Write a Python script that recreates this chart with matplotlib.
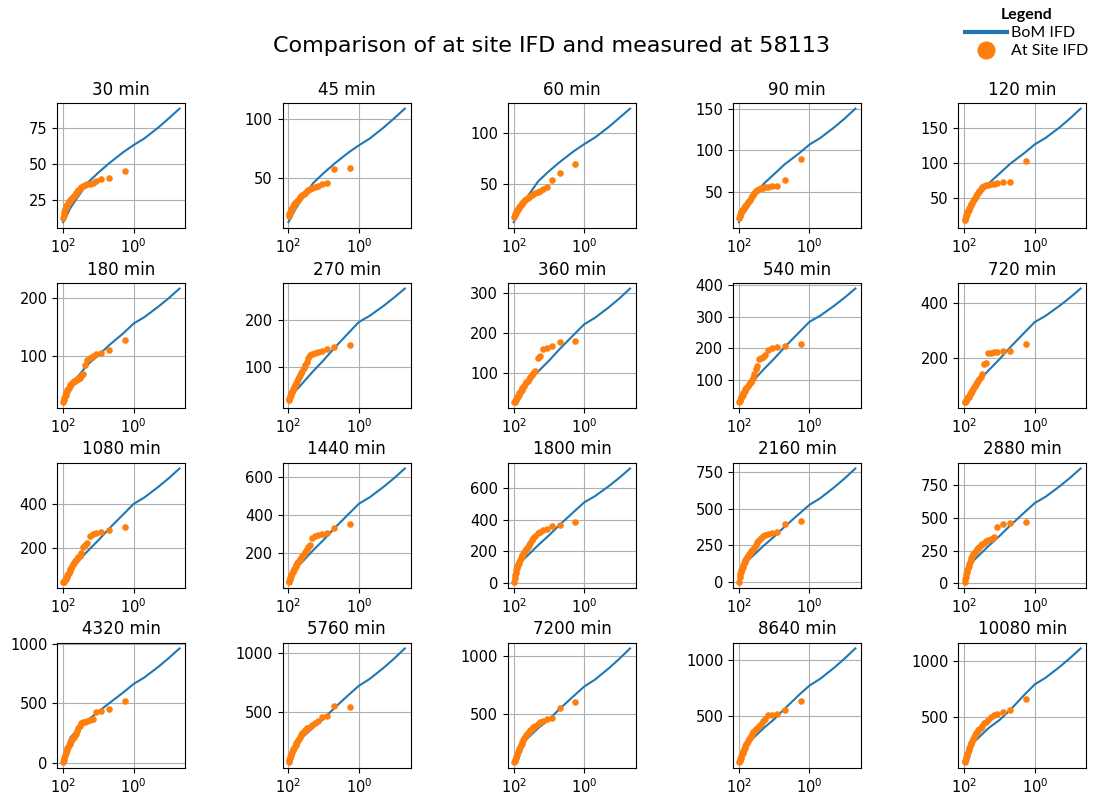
import matplotlib
matplotlib.use('Agg')
import matplotlib.pyplot as plt
from matplotlib.ticker import NullLocator
from matplotlib.lines import Line2D

# durations (min)
durations = [30, 45, 60, 90, 120, 180, 270, 360, 540, 720,
             1080, 1440, 1800, 2160, 2880, 4320, 5760, 7200, 8640, 10080]

# AEP (%) of the BoM IFD curve points
bom_aep = [99.99, 63.2, 50, 20, 10, 5, 2, 1, 0.5, 0.2, 0.1, 0.05]

# BoM IFD depths (mm), one list per duration
bom_30 = [10, 19.5, 23.3, 37.2, 44.1, 50.4, 58, 63, 67.5, 75, 81.4, 88]
bom_45 = [13, 24.2, 28.9, 46, 54.6, 62.4, 71.8, 78, 83.6, 93, 100.8, 109]
bom_60 = [12, 27.6, 32.9, 52.5, 62.3, 71.2, 81.9, 89, 95.4, 106, 115, 124]
bom_90 = [14, 32.1, 38.5, 59.9, 71.7, 83.5, 96.3, 107, 114.7, 127.5, 138.2, 150]
bom_120 = [15, 37.8, 45.4, 70.6, 84.4, 98.3, 113.4, 126, 135, 150, 163, 177]
bom_180 = [21, 46.8, 56.2, 85.8, 101.4, 118.6, 138.8, 156, 166.8, 184.9, 199.8, 216]
bom_270 = [27, 50.7, 58.5, 91.7, 115, 140.4, 171.6, 195, 207.7, 228.7, 246.3, 265]
bom_360 = [27, 57.5, 66.3, 103.9, 130.4, 159.1, 194.5, 221, 236.9, 263.4, 285.5, 310]
bom_540 = [30, 73.8, 85.2, 133.5, 167.6, 204.5, 249.9, 284, 303, 334.5, 360.7, 389]
bom_720 = [38, 85.8, 99, 155.1, 194.7, 237.6, 290.4, 330, 352.1, 388.7, 419.1, 452]
bom_1080 = [47, 104, 120, 188, 236, 288, 352, 400, 428.8, 476.8, 516.8, 560]
bom_1440 = [50, 119.3, 137.7, 215.7, 270.8, 330.5, 403.9, 459, 492, 547.1, 593, 643]
bom_1800 = [20, 132.9, 153.3, 240.2, 301.5, 367.9, 449.7, 511, 549.8, 614.2, 667.7, 726]
bom_2160 = [5, 137, 158.1, 247.7, 310.9, 379.4, 463.8, 527, 571.6, 646, 707.8, 775]
bom_2880 = [10, 158.9, 183.3, 287.2, 360.5, 439.9, 537.7, 611, 658, 737, 802.9, 874]
bom_4320 = [10, 210, 245, 360, 430, 500, 590, 663, 716.7, 806.2, 881.1, 961]
bom_5760 = [72, 220, 255, 365, 440, 530, 640, 720, 776.9, 871.9, 951.1, 1037]
bom_7200 = [80, 225, 260, 375, 450, 540, 652, 735, 794.5, 893.8, 976.8, 1066]
bom_8640 = [88, 235, 270, 390, 470, 565, 685, 770, 829.3, 928.6, 1011.8, 1101]
bom_10080 = [92, 240, 280, 400, 470, 560, 695, 791, 849.5, 946.8, 1027.5, 1115]

# plotting positions (AEP %) of the at-site annual maxima, largest first
site_aep = [1.80, 5.01, 8.23, 11.44, 14.65, 17.87, 21.08, 24.29, 27.51, 30.72,
            33.93, 37.15, 40.36, 43.57, 46.79, 50.00, 53.21, 56.43, 59.64, 62.85,
            66.07, 69.28, 72.49, 75.71, 78.92, 82.13, 85.35, 88.56, 91.77, 94.99, 98.20]

# at-site depths (mm), one list per duration, largest first
site_30 = [45, 40.5, 40, 38, 37, 36.5, 36, 35.5, 35, 34, 33, 32, 31, 30, 29, 28,
           27, 26.5, 26, 25, 24.5, 24, 23, 22, 21.5, 21, 20, 19, 17, 15, 13]
site_45 = [58.6, 58, 46.3, 45, 44, 43, 42, 41, 40, 39, 38, 37, 36, 35, 34, 33,
           32, 31, 30.5, 30, 29, 28, 27, 26, 25, 24, 23, 22, 21, 20, 18]
site_60 = [69.6, 60.8, 53.2, 47, 45, 43, 42, 41, 40, 39, 38, 37, 36, 35, 34, 33,
           32, 31, 30, 29, 28, 27, 26, 25, 24, 23, 22, 21, 20, 19, 17]
site_90 = [90, 64, 57, 57, 56.5, 56, 55.5, 55, 54, 53, 51, 49, 47, 45, 43, 41,
           39, 38, 36, 35, 33, 32, 31, 30, 29, 28, 27, 25, 23, 21, 19]
site_120 = [102, 73, 72, 71, 70, 69, 68.5, 68, 67, 65, 62, 60, 57, 55, 52, 50,
            48, 45, 43, 41, 39, 37, 35, 33, 31, 29, 27, 25, 23, 20, 18]
site_180 = [127, 110, 105, 103, 100, 97, 93, 84, 70, 66, 63, 61, 60, 59, 58, 57,
            56, 54, 52, 50, 48, 46, 44, 42, 40, 37, 34, 31, 28, 25, 22]
site_270 = [147, 142, 138, 135, 133, 130, 128, 125, 120, 112, 105, 98, 92, 88, 84, 80,
            76, 72, 68, 65, 62, 58, 55, 52, 49, 46, 43, 40, 37, 34, 31]
site_360 = [179, 176, 166, 163, 160, 142, 137, 105, 100, 95, 90, 85, 80, 76, 72, 68,
            64, 61, 58, 55, 52, 49, 46, 43, 40, 37, 34, 32, 30, 28, 27]
site_540 = [214, 206, 203, 200, 195, 180, 172, 168, 165, 145, 135, 120, 105, 100, 95, 90,
            86, 82, 78, 74, 70, 66, 62, 58, 54, 50, 46, 42, 38, 35, 32]
site_720 = [250, 226, 224, 222, 220, 218, 216, 182, 176, 140, 130, 122, 116, 110, 104, 98,
            92, 86, 80, 75, 70, 66, 62, 58, 55, 52, 49, 46, 43, 40, 38]
site_1080 = [294, 283, 275, 268, 262, 255, 225, 215, 205, 180, 165, 158, 152, 147, 142, 135,
             128, 120, 112, 104, 97, 90, 84, 78, 72, 66, 60, 56, 52, 49, 47]
site_1440 = [355, 332, 305, 300, 297, 290, 280, 245, 235, 225, 205, 195, 185, 178, 170, 162,
             155, 148, 140, 132, 125, 117, 110, 102, 95, 88, 80, 72, 65, 58, 52]
site_1800 = [388, 367, 358, 345, 335, 325, 315, 300, 285, 270, 255, 240, 228, 215, 205, 195,
             185, 175, 165, 155, 145, 135, 125, 115, 105, 92, 80, 65, 50, 30, 5]
site_2160 = [419, 397, 340, 335, 330, 322, 312, 300, 290, 275, 255, 232, 225, 218, 210, 200,
             190, 180, 170, 160, 150, 140, 128, 116, 104, 92, 80, 68, 55, 35, 0]
site_2880 = [466, 458, 450, 430, 350, 340, 330, 320, 310, 300, 290, 280, 270, 260, 250, 240,
             230, 220, 205, 190, 175, 160, 145, 130, 115, 100, 85, 70, 50, 30, 10]
site_4320 = [522, 456, 434, 430, 370, 360, 350, 345, 340, 335, 310, 290, 265, 245, 232, 220,
             210, 198, 186, 175, 163, 150, 137, 124, 110, 95, 80, 63, 45, 25, 8]
site_5760 = [537, 545, 460, 455, 420, 400, 385, 372, 365, 358, 345, 330, 315, 300, 285, 270,
             258, 245, 232, 220, 207, 195, 182, 170, 157, 143, 130, 118, 105, 90, 75]
site_7200 = [597, 548, 460, 450, 440, 425, 410, 395, 380, 368, 356, 343, 330, 315, 300, 285,
             270, 255, 240, 225, 210, 195, 180, 165, 150, 137, 125, 112, 100, 90, 80]
site_8640 = [635, 550, 515, 510, 505, 470, 450, 430, 405, 390, 378, 366, 352, 338, 322, 306,
             290, 275, 260, 245, 230, 215, 200, 185, 170, 155, 140, 125, 112, 100, 88]
site_10080 = [660, 562, 540, 525, 515, 500, 470, 455, 440, 420, 400, 390, 378, 365, 350, 335,
              318, 300, 283, 266, 250, 233, 216, 200, 183, 166, 150, 135, 120, 105, 92]

bom_all = [bom_30, bom_45, bom_60, bom_90, bom_120, bom_180, bom_270, bom_360, bom_540, bom_720,
           bom_1080, bom_1440, bom_1800, bom_2160, bom_2880, bom_4320, bom_5760, bom_7200,
           bom_8640, bom_10080]
site_all = [site_30, site_45, site_60, site_90, site_120, site_180, site_270, site_360, site_540,
            site_720, site_1080, site_1440, site_1800, site_2160, site_2880, site_4320, site_5760,
            site_7200, site_8640, site_10080]

fig, axes = plt.subplots(4, 5, figsize=(11.03, 7.98), dpi=100)
fig.subplots_adjust(left=0.052, right=0.985, top=0.871, bottom=0.038, wspace=0.76, hspace=0.44)

for ax, dur, bom, site in zip(axes.flat, durations, bom_all, site_all):
    ax.plot(bom_aep, bom, color='tab:blue', lw=1.5)
    ax.scatter(site_aep, site, color='tab:orange', s=14, zorder=3)
    ax.set_xscale('log')
    ax.invert_xaxis()
    ax.set_xticks([100, 1])
    ax.xaxis.set_minor_locator(NullLocator())
    ax.grid(True)
    ax.set_title(f'{dur} min', fontsize=12)
    ax.tick_params(labelsize=10.5)

fig.suptitle('Comparison of at site IFD and measured at 58113', fontsize=16, y=0.955)

handles = [Line2D([], [], color='tab:blue', lw=3),
           Line2D([], [], color='tab:orange', marker='o', ls='', markersize=12)]
leg = fig.legend(handles, ['BoM IFD', 'At Site IFD'], loc='upper right',
                 bbox_to_anchor=(1.0, 1.008), frameon=False, title='Legend',
                 prop={'family': 'Lato', 'size': 11.5}, handlelength=2.6,
                 handletextpad=0.3, labelspacing=0.25)
leg.get_title().set_fontweight('bold')
leg.get_title().set_family('Lato')
leg.get_title().set_fontsize(11.5)

plt.savefig('out.png')
